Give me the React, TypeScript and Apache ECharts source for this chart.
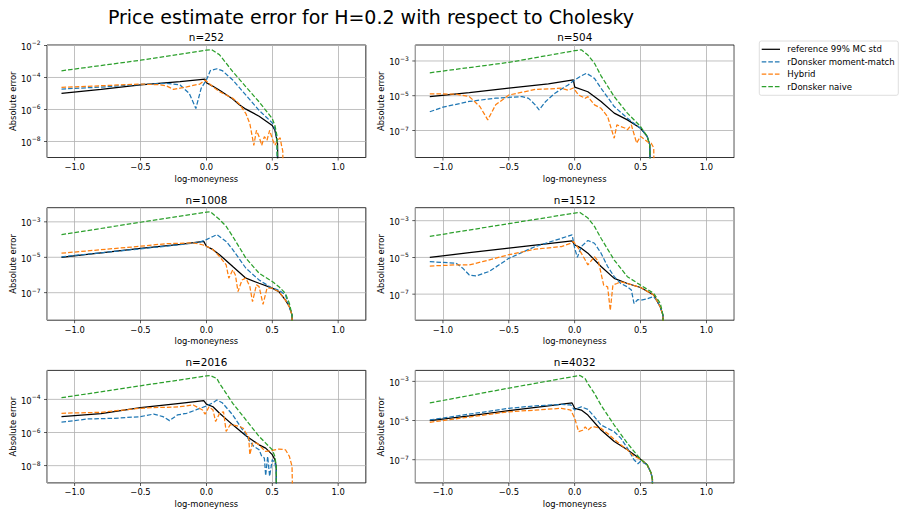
import React, { useEffect, useRef } from 'react';
import * as echarts from 'echarts';

const mainTitle = 'Price estimate error for H=0.2 with respect to Cholesky';
const seriesNames = ['reference 99% MC std', 'rDonsker moment-match', 'Hybrid', 'rDonsker naive'];
const seriesColors = ['#000000', '#1f77b4', '#ff7f0e', '#2ca02c'];
const panelTitles = ['n=252', 'n=504', 'n=1008', 'n=1512', 'n=2016', 'n=4032'];
const xRange = [-1.21, 1.21];
const xTicks = [-1.0, -0.5, 0.0, 0.5, 1.0];
const yTickExponents = [[-8, -6, -4, -2], [-7, -5, -3], [-7, -5, -3], [-7, -5, -3], [-8, -6, -4], [-7, -5, -3]];
const yRanges = [[1e-9, 1.07e-2], [2.8e-9, 8.3e-3], [2.8e-9, 6.3e-3], [3.8e-9, 5.1e-3], [9.1e-10, 5.6e-3], [6.6e-9, 3.6e-3]];

type P = [number, number][];

// n=252
const ref252: P = [[-1.1, 1.0e-5], [-0.8, 1.8e-5], [-0.5, 3.4e-5], [-0.2, 5.5e-5], [-0.01, 7.9e-5], [0.0, 4.7e-5], [0.05, 2.8e-5], [0.1, 1.6e-5], [0.2, 4.5e-6], [0.25, 2.0e-6], [0.3, 1.05e-6], [0.4, 3.8e-7], [0.5, 1.0e-7], [0.52, 5.0e-8], [0.54, 7.9e-9], [0.55, 1e-14]];
const mm252: P = [[-1.1, 1.9e-5], [-0.8, 2.5e-5], [-0.5, 3.7e-5], [-0.3, 4.3e-5], [-0.2, 3.4e-5], [-0.13, 1.0e-5], [-0.08, 1.15e-6], [-0.04, 2.1e-5], [0.0, 6.9e-5], [0.03, 2.7e-4], [0.08, 3.5e-4], [0.12, 2.7e-4], [0.2, 6.9e-5], [0.3, 7.9e-6], [0.4, 8.9e-7], [0.5, 1.45e-7], [0.52, 6.3e-8], [0.535, 1.6e-8], [0.545, 1e-14]];
const hyb252: P = [[-1.1, 2.4e-5], [-1.0, 2.6e-5], [-0.7, 3.3e-5], [-0.5, 3.9e-5], [-0.35, 3.5e-5], [-0.3, 2.9e-5], [-0.25, 1.8e-5], [-0.15, 2.6e-5], [-0.05, 3.9e-5], [-0.01, 6.9e-5], [0.05, 2.6e-5], [0.1, 1.3e-5], [0.2, 5.0e-6], [0.25, 2.2e-6], [0.3, 5.5e-7], [0.33, 1.26e-7], [0.36, 5.8e-9], [0.38, 5.0e-8], [0.4, 2.0e-8], [0.42, 5.8e-9], [0.44, 2.0e-8], [0.46, 1.2e-8], [0.48, 5.0e-8], [0.5, 1.5e-8], [0.52, 5.8e-9], [0.54, 1.2e-8], [0.56, 1.7e-8], [0.57, 5.8e-9], [0.58, 2.5e-9], [0.585, 1e-14]];
const naive252: P = [[-1.1, 2.6e-4], [-0.5, 1.2e-3], [0.0, 5.1e-3], [0.04, 5.4e-3], [0.1, 2.6e-3], [0.15, 7.8e-4], [0.2, 2.3e-4], [0.3, 2.6e-5], [0.4, 3.0e-6], [0.5, 2.7e-7], [0.52, 1.0e-7], [0.535, 2.5e-8], [0.55, 1e-14]];

// n=504
const ref504: P = [[-1.1, 8.9e-6], [-0.8, 1.5e-5], [-0.5, 2.7e-5], [-0.2, 4.8e-5], [-0.01, 8.1e-5], [0.0, 3.1e-5], [0.1, 1.7e-5], [0.2, 4.7e-6], [0.3, 1.0e-6], [0.4, 4.1e-7], [0.5, 1.35e-7], [0.55, 4.6e-8], [0.57, 1.5e-8], [0.585, 1e-14]];
const mm504: P = [[-1.1, 1.2e-6], [-1.0, 2.2e-6], [-0.8, 4.7e-6], [-0.6, 7.2e-6], [-0.4, 8.9e-6], [-0.35, 7.1e-6], [-0.3, 3.0e-6], [-0.27, 1.55e-6], [-0.22, 4.7e-6], [-0.15, 1.4e-5], [-0.05, 4.2e-5], [0.0, 8.1e-5], [0.05, 1.4e-4], [0.09, 1.95e-4], [0.15, 1.0e-4], [0.2, 2.7e-5], [0.3, 2.4e-6], [0.4, 5.1e-7], [0.5, 1.35e-7], [0.55, 4.6e-8], [0.57, 1.5e-8], [0.585, 1e-14]];
const hyb504: P = [[-1.1, 1.3e-5], [-0.9, 1.23e-5], [-0.8, 8.9e-6], [-0.72, 2.4e-6], [-0.66, 4.1e-7], [-0.6, 3.0e-6], [-0.5, 1.1e-5], [-0.3, 2.3e-5], [-0.1, 2.7e-5], [-0.05, 2.1e-5], [-0.01, 2.8e-5], [0.03, 1.1e-5], [0.08, 7.1e-6], [0.1, 8.9e-6], [0.15, 3.0e-6], [0.2, 1.9e-6], [0.25, 6.3e-7], [0.28, 1.1e-7], [0.3, 3.6e-8], [0.32, 2.1e-7], [0.35, 1.7e-7], [0.38, 1.4e-7], [0.4, 1.1e-7], [0.43, 2.1e-7], [0.47, 1.9e-8], [0.5, 4.6e-8], [0.55, 2.3e-8], [0.58, 1.9e-8], [0.6, 1.0e-8], [0.61, 1e-14]];
const naive504: P = [[-1.1, 2.1e-4], [-0.5, 8.3e-4], [0.0, 3.9e-3], [0.05, 4.4e-3], [0.1, 2.2e-3], [0.15, 7.4e-4], [0.2, 1.4e-4], [0.3, 8.9e-6], [0.4, 1.0e-6], [0.5, 1.7e-7], [0.55, 4.6e-8], [0.57, 1.5e-8], [0.585, 1e-14]];

// n=1008
const ref1008: P = [[-1.1, 1.0e-5], [-0.8, 1.8e-5], [-0.5, 3.2e-5], [-0.2, 5.4e-5], [-0.02, 7.9e-5], [0.0, 4.2e-5], [0.05, 2.7e-5], [0.1, 1.4e-5], [0.2, 3.0e-6], [0.3, 6.6e-7], [0.4, 3.4e-7], [0.5, 1.8e-7], [0.55, 1.15e-7], [0.6, 3.8e-8], [0.63, 1.6e-8], [0.65, 5.4e-9], [0.655, 1e-14]];
const mm1008: P = [[-1.1, 1.07e-5], [-0.5, 3.0e-5], [-0.2, 5.1e-5], [-0.05, 7.2e-5], [0.0, 1.0e-4], [0.05, 1.5e-4], [0.08, 1.9e-4], [0.15, 7.9e-5], [0.2, 2.7e-5], [0.3, 2.4e-6], [0.4, 5.2e-7], [0.5, 1.8e-7], [0.55, 1.4e-7], [0.6, 7.4e-8], [0.63, 1.6e-8], [0.65, 5.4e-9], [0.655, 1e-14]];
const hyb1008: P = [[-1.1, 1.7e-5], [-0.5, 4.2e-5], [-0.3, 5.9e-5], [-0.1, 6.5e-5], [-0.03, 5.1e-5], [0.0, 4.2e-5], [0.05, 2.7e-5], [0.1, 1.1e-5], [0.15, 3.7e-6], [0.17, 6.6e-7], [0.2, 1.95e-6], [0.22, 1.0e-6], [0.24, 1.15e-7], [0.27, 5.2e-7], [0.3, 6.6e-7], [0.33, 2.2e-7], [0.35, 3.1e-8], [0.38, 2.8e-7], [0.4, 2.2e-7], [0.43, 2.2e-8], [0.46, 1.8e-7], [0.5, 1.8e-7], [0.55, 1.15e-7], [0.6, 3.8e-8], [0.63, 1.6e-8], [0.65, 5.4e-9], [0.655, 1e-14]];
const naive1008: P = [[-1.1, 1.9e-4], [-0.5, 9.5e-4], [0.0, 3.5e-3], [0.03, 3.7e-3], [0.1, 1.35e-3], [0.15, 5.6e-4], [0.2, 1.5e-4], [0.3, 8.9e-6], [0.4, 1.26e-6], [0.5, 4.3e-7], [0.55, 2.2e-7], [0.6, 9.1e-8], [0.63, 2.5e-8], [0.65, 5.4e-9], [0.655, 1e-14]];

// n=1512
const ref1512: P = [[-1.1, 1.0e-5], [-0.8, 1.8e-5], [-0.5, 3.2e-5], [-0.2, 5.7e-5], [-0.02, 7.9e-5], [0.0, 4.8e-5], [0.05, 3.2e-5], [0.1, 1.7e-5], [0.2, 3.2e-6], [0.3, 7.2e-7], [0.4, 3.8e-7], [0.5, 2.3e-7], [0.6, 8.9e-8], [0.65, 2.0e-8], [0.67, 7.1e-9], [0.675, 1e-14]];
const mm1512: P = [[-1.1, 5.9e-6], [-0.9, 4.8e-6], [-0.85, 2.6e-6], [-0.8, 1.1e-6], [-0.75, 9.8e-7], [-0.65, 1.7e-6], [-0.5, 8.9e-6], [-0.3, 3.9e-5], [-0.1, 1.1e-4], [-0.02, 1.7e-4], [0.0, 3.2e-5], [0.02, 1.0e-5], [0.05, 3.9e-5], [0.1, 8.3e-5], [0.15, 5.9e-5], [0.2, 1.7e-5], [0.25, 3.2e-6], [0.3, 8.9e-7], [0.35, 3.8e-7], [0.4, 2.5e-7], [0.43, 1.7e-7], [0.45, 3.1e-8], [0.48, 5.1e-8], [0.5, 4.7e-8], [0.55, 5.5e-8], [0.58, 6.6e-8], [0.6, 7.1e-8], [0.62, 4.7e-8], [0.65, 2.0e-8], [0.67, 7.1e-9], [0.675, 1e-14]];
const hyb1512: P = [[-1.1, 3.4e-6], [-0.9, 3.9e-6], [-0.8, 3.9e-6], [-0.7, 5.9e-6], [-0.5, 1.4e-5], [-0.3, 2.8e-5], [-0.1, 3.9e-5], [-0.03, 5.9e-5], [-0.01, 7.4e-5], [0.0, 5.9e-5], [0.02, 3.9e-5], [0.05, 1.7e-5], [0.08, 7.2e-6], [0.1, 3.9e-6], [0.12, 5.9e-6], [0.15, 1.1e-5], [0.18, 5.9e-6], [0.2, 1.35e-6], [0.22, 3.1e-7], [0.25, 2.5e-7], [0.27, 1.3e-8], [0.29, 3.1e-7], [0.32, 3.8e-7], [0.35, 4.7e-7], [0.4, 3.8e-7], [0.5, 2.3e-7], [0.6, 8.9e-8], [0.65, 2.0e-8], [0.67, 7.1e-9], [0.675, 1e-14]];
const naive1512: P = [[-1.1, 1.4e-4], [-0.5, 6.9e-4], [0.0, 2.6e-3], [0.04, 2.8e-3], [0.1, 1.4e-3], [0.15, 4.9e-4], [0.2, 1.1e-4], [0.3, 7.2e-6], [0.4, 8.9e-7], [0.5, 3.1e-7], [0.6, 1.1e-7], [0.65, 3.1e-8], [0.67, 7.1e-9], [0.675, 1e-14]];

// n=2016
const ref2016: P = [[-1.1, 9.1e-6], [-0.8, 1.4e-5], [-0.5, 3.2e-5], [-0.2, 5.8e-5], [-0.02, 8.3e-5], [0.0, 5.2e-5], [0.05, 3.6e-5], [0.1, 1.45e-5], [0.2, 2.9e-6], [0.3, 6.3e-7], [0.4, 1.8e-7], [0.45, 1.15e-7], [0.5, 4.6e-8], [0.52, 2.3e-8], [0.53, 9.1e-9], [0.535, 1e-14]];
const mm2016: P = [[-1.1, 4.2e-6], [-0.9, 6.6e-6], [-0.7, 7.2e-6], [-0.5, 9.1e-6], [-0.4, 1.3e-5], [-0.33, 9.1e-6], [-0.28, 5.2e-6], [-0.22, 1.15e-5], [-0.15, 1.45e-5], [-0.08, 2.3e-5], [0.0, 4.0e-5], [0.05, 6.3e-5], [0.08, 9.1e-5], [0.12, 6.3e-5], [0.2, 1.15e-5], [0.3, 7.2e-7], [0.33, 2.9e-7], [0.36, 1.45e-7], [0.4, 9.1e-8], [0.42, 3.6e-8], [0.44, 2.9e-8], [0.45, 2.5e-9], [0.465, 3.6e-8], [0.48, 2.3e-9], [0.5, 2.3e-8], [0.52, 1.45e-8], [0.53, 5.0e-9], [0.535, 1e-14]];
const hyb2016: P = [[-1.1, 1.45e-5], [-0.8, 1.66e-5], [-0.5, 2.9e-5], [-0.4, 3.2e-5], [-0.3, 3.3e-5], [-0.2, 3.6e-5], [-0.1, 4.6e-5], [-0.03, 2.3e-5], [-0.01, 1.26e-5], [0.02, 3.6e-5], [0.05, 2.3e-5], [0.07, 4.6e-6], [0.1, 1.45e-5], [0.13, 1.8e-5], [0.15, 1.15e-6], [0.18, 2.9e-6], [0.2, 2.9e-6], [0.25, 2.3e-6], [0.28, 1.8e-6], [0.3, 9.1e-7], [0.32, 5.8e-7], [0.33, 4.6e-8], [0.35, 2.3e-7], [0.38, 2.3e-7], [0.4, 1.8e-7], [0.43, 1.0e-7], [0.45, 7.2e-8], [0.5, 8.3e-8], [0.55, 1.0e-7], [0.6, 9.1e-8], [0.63, 3.6e-8], [0.65, 9.1e-9], [0.665, 1e-14]];
const naive2016: P = [[-1.1, 1.26e-4], [-0.5, 6.6e-4], [0.0, 2.6e-3], [0.03, 2.75e-3], [0.08, 1.8e-3], [0.1, 9.1e-4], [0.15, 2.3e-4], [0.2, 5.8e-5], [0.3, 5.8e-6], [0.4, 5.8e-7], [0.45, 2.3e-7], [0.5, 9.1e-8], [0.52, 3.6e-8], [0.53, 9.1e-9], [0.535, 1e-14]];

// n=4032
const ref4032: P = [[-1.1, 1.0e-5], [-0.8, 1.75e-5], [-0.5, 3.2e-5], [-0.2, 5.6e-5], [-0.02, 7.9e-5], [0.0, 4.2e-5], [0.05, 3.4e-5], [0.1, 1.9e-5], [0.2, 3.3e-6], [0.3, 8.5e-7], [0.4, 3.2e-7], [0.5, 1.07e-7], [0.55, 5.6e-8], [0.58, 2.1e-8], [0.59, 1.0e-8], [0.595, 1e-14]];
const mm4032: P = [[-1.1, 1.07e-5], [-0.5, 4.2e-5], [-0.3, 5.6e-5], [-0.1, 6.6e-5], [-0.03, 6.2e-5], [0.0, 3.4e-5], [0.02, 4.2e-5], [0.05, 5.0e-5], [0.1, 3.7e-5], [0.15, 1.55e-5], [0.2, 5.9e-6], [0.25, 4.0e-6], [0.3, 2.7e-6], [0.35, 1.26e-6], [0.4, 3.9e-7], [0.45, 1.0e-7], [0.48, 6.3e-8], [0.5, 8.3e-8], [0.55, 5.6e-8], [0.58, 2.1e-8], [0.59, 1.0e-8], [0.595, 1e-14]];
const hyb4032: P = [[-1.1, 8.1e-6], [-0.5, 2.8e-5], [-0.3, 3.4e-5], [-0.1, 4.2e-5], [-0.03, 3.4e-5], [0.0, 1.3e-5], [0.03, 2.7e-6], [0.06, 3.2e-6], [0.08, 4.8e-6], [0.1, 3.2e-6], [0.13, 4.8e-6], [0.15, 4.8e-6], [0.2, 4.0e-6], [0.25, 2.2e-6], [0.3, 1.1e-6], [0.35, 5.8e-7], [0.4, 3.2e-7], [0.45, 1.5e-7], [0.5, 1.07e-7], [0.55, 5.6e-8], [0.58, 2.1e-8], [0.59, 1.0e-8], [0.595, 1e-14]];
const naive4032: P = [[-1.1, 7.9e-5], [-0.5, 4.5e-4], [0.0, 1.8e-3], [0.04, 2.0e-3], [0.08, 1.35e-3], [0.1, 7.6e-4], [0.15, 2.4e-4], [0.2, 6.0e-5], [0.3, 5.9e-6], [0.4, 6.9e-7], [0.5, 1.07e-7], [0.55, 5.6e-8], [0.58, 2.1e-8], [0.59, 1.0e-8], [0.595, 1e-14]];

const panelData: P[][] = [
  [ref252, mm252, hyb252, naive252],
  [ref504, mm504, hyb504, naive504],
  [ref1008, mm1008, hyb1008, naive1008],
  [ref1512, mm1512, hyb1512, naive1512],
  [ref2016, mm2016, hyb2016, naive2016],
  [ref4032, mm4032, hyb4032, naive4032],
];

const FONT = 'DejaVu Sans';
const GRID_LEFT = [47, 415.3];
const GRID_TOP = [45, 207.7, 370.4];
const GRID_W = 318.8;
const GRID_H = 112.5;
const GRID_COLOR = '#b0b0b0';
const DASH = [4.6, 2];

export default function App() {
  const ref = useRef<HTMLDivElement>(null);
  useEffect(() => {
    if (!ref.current) return;
    const chart = echarts.init(ref.current, undefined, { renderer: 'svg' });
    const grids: any[] = [];
    const xAxes: any[] = [];
    const yAxes: any[] = [];
    const series: any[] = [];
    const graphics: any[] = [
      { type: 'text', x: 371, y: 17, style: { text: mainTitle, fontSize: 19, fontFamily: FONT, fill: '#000', align: 'center', verticalAlign: 'middle', textAlign: 'center', textVerticalAlign: 'middle' } },
    ];
    panelData.forEach((sets, i) => {
      const col = i % 2;
      const row = Math.floor(i / 2);
      const left = GRID_LEFT[col];
      const top = GRID_TOP[row];
      const [yMin, yMax] = yRanges[i];
      grids.push({ left, top, width: GRID_W, height: GRID_H, show: true, borderColor: '#000', borderWidth: 0.8, backgroundColor: 'transparent' });
      xAxes.push({
        type: 'value', gridIndex: i, min: xRange[0], max: xRange[1], splitNumber: 5,
        axisLine: { show: false },
        axisTick: { show: false },
        axisLabel: {
          fontSize: 8.4, fontFamily: FONT, color: '#000', margin: 5.5,
          formatter: (v: number) => {
            if (Math.abs(v * 2 - Math.round(v * 2)) > 1e-6) return '';
            return (v < -1e-9 ? '\u2212' : '') + Math.abs(v).toFixed(1);
          },
        },
        splitLine: { show: true, lineStyle: { color: GRID_COLOR, width: 0.8 } },
        name: 'log-moneyness', nameLocation: 'middle', nameGap: 17,
        nameTextStyle: { fontSize: 8.4, fontFamily: FONT, color: '#000' },
      });
      const exps = yTickExponents[i];
      yAxes.push({
        type: 'log', logBase: 10, gridIndex: i, min: yMin, max: yMax,
        axisLine: { show: false },
        axisTick: { show: false },
        axisLabel: {
          margin: 6.5,
          formatter: (v: number) => {
            const e = Math.log10(v);
            const r = Math.round(e);
            if (Math.abs(e - r) > 1e-6) return '';
            if (exps.indexOf(r) < 0) return '';
            return '{b|10}{s|\u2212' + String(Math.abs(r)) + '}';
          },
          rich: {
            b: { fontSize: 8.4, fontFamily: FONT, color: '#000', lineHeight: 11, verticalAlign: 'bottom' },
            s: { fontSize: 6, fontFamily: FONT, color: '#000', lineHeight: 6, verticalAlign: 'top' },
          },
        },
        splitLine: { show: false },
        name: 'Absolute error', nameLocation: 'middle', nameGap: 30,
        nameTextStyle: { fontSize: 8.4, fontFamily: FONT, color: '#000' },
      });
      exps.forEach((e) => {
        const v = Math.pow(10, e);
        series.push({
          type: 'line', xAxisIndex: i, yAxisIndex: i, silent: true, z: 1, symbol: 'none',
          data: [[xRange[0], v], [xRange[1], v]],
          lineStyle: { color: GRID_COLOR, width: 0.8, type: 'solid' },
        });
      });
      series.push({
        type: 'scatter', xAxisIndex: i, yAxisIndex: i, silent: true, clip: false, z: 3,
        data: exps.map((e) => [xRange[0], Math.pow(10, e)]),
        symbol: 'rect', symbolSize: [3, 0.8], symbolOffset: [-1.5, 0],
        itemStyle: { color: '#000' },
      });
      series.push({
        type: 'scatter', xAxisIndex: i, yAxisIndex: i, silent: true, clip: false, z: 3,
        data: xTicks.map((x) => [x, yMin]),
        symbol: 'rect', symbolSize: [0.8, 3], symbolOffset: [0, 1.5],
        itemStyle: { color: '#000' },
      });
      sets.forEach((d, k) => {
        series.push({
          type: 'line', name: seriesNames[k], xAxisIndex: i, yAxisIndex: i,
          data: d, symbol: 'none', showSymbol: false, clip: true, z: 2,
          lineStyle: { color: seriesColors[k], width: 1.25, type: k === 0 ? 'solid' : DASH },
          itemStyle: { color: seriesColors[k] },
        });
      });
      graphics.push({
        type: 'text', x: left + GRID_W / 2, y: top - 8,
        style: { text: panelTitles[i], fontSize: 10.4, fontFamily: FONT, fill: '#000', align: 'center', verticalAlign: 'middle', textAlign: 'center', textVerticalAlign: 'middle' },
      });
    });
    const LX = 759.3, LY = 41, LW = 139, LH = 54.3, ROW0 = 49.3, PITCH = 12.45;
    graphics.push({
      type: 'rect', shape: { x: LX, y: LY, width: LW, height: LH, r: 2 },
      style: { fill: '#ffffff', stroke: '#d5d5d5', lineWidth: 0.8 }, z: 10,
    });
    seriesNames.forEach((name, k) => {
      const y = ROW0 + k * PITCH;
      graphics.push({
        type: 'line', shape: { x1: 761.7, y1: y, x2: 780, y2: y }, z: 11,
        style: { stroke: seriesColors[k], lineWidth: 1.25, lineDash: k === 0 ? null : DASH },
      });
      graphics.push({
        type: 'text', x: 787.3, y, z: 11,
        style: { text: name, fontSize: 8.55, fontFamily: FONT, fill: '#000', align: 'left', verticalAlign: 'middle', textAlign: 'left', textVerticalAlign: 'middle' },
      });
    });
    chart.setOption({
      animation: false,
      textStyle: { fontFamily: FONT },
      grid: grids,
      xAxis: xAxes,
      yAxis: yAxes,
      series,
      graphic: graphics,
    });
    return () => chart.dispose();
  }, []);
  return <div ref={ref} style={{ position: 'absolute', left: 0, top: 0, width: 902, height: 514 }} />;
}
